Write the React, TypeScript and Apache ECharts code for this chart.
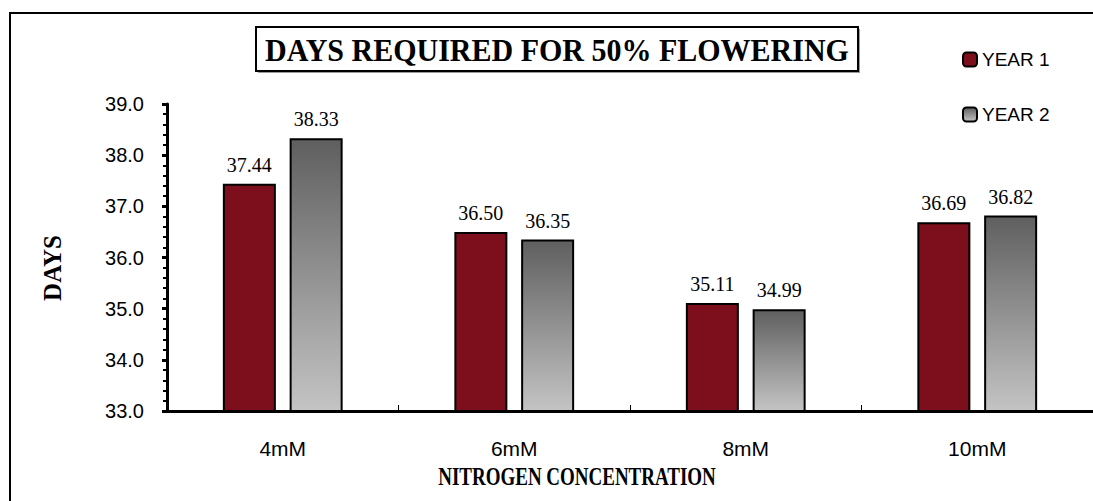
import React, { useEffect, useRef } from "react";
import * as echarts from "echarts";

const categories = ["4mM", "6mM", "8mM", "10mM"];
const year1 = [37.44, 36.5, 35.11, 36.69];
const year2 = [38.33, 36.35, 34.99, 36.82];
const seriesNames = ["YEAR 1", "YEAR 2"];
const yMin = 33;
const yMax = 39;
const yStep = 1;
const chartTitle = "DAYS REQUIRED FOR 50% FLOWERING";
const yName = "DAYS";
const xName = "NITROGEN CONCENTRATION";

export default function App() {
  const ref = useRef<HTMLDivElement>(null);
  useEffect(() => {
    if (!ref.current) return;
    const chart = echarts.init(ref.current, undefined, { renderer: "svg" });
    const serif = "'Liberation Serif', 'Times New Roman', serif";
    const sans = "'Liberation Sans', Arial, sans-serif";
    const grayGrad = new echarts.graphic.LinearGradient(0, 0, 0, 1, [
      { offset: 0, color: "#5f5f5f" },
      { offset: 1, color: "#c4c4c4" },
    ]);
    const labelCfg = {
      show: true,
      position: "top" as const,
      distance: 9,
      color: "#000",
      fontFamily: serif,
      fontSize: 20,
      formatter: (p: any) => Number(p.value).toFixed(2),
    };
    chart.setOption({
      animation: false,
      backgroundColor: "#fff",
      grid: { left: 167, right: -11, top: 104, bottom: 90, containLabel: false },
      legend: {
        orient: "vertical",
        left: 957,
        top: 45,
        itemWidth: 14,
        itemHeight: 14,
        itemGap: 36,
        data: seriesNames,
        textStyle: { fontFamily: sans, fontSize: 19, color: "#000", padding: [0, 0, 0, 0] },
      },
      xAxis: {
        type: "category",
        data: categories,
        axisLine: { lineStyle: { color: "#000", width: 3 } },
        axisTick: { show: true, inside: true, length: 6, lineStyle: { color: "#000", width: 1 } },
        axisLabel: { color: "#000", fontFamily: sans, fontSize: 21, margin: 27 },
        splitLine: { show: false },
      },
      yAxis: {
        type: "value",
        min: yMin,
        max: yMax,
        interval: yStep,
        axisLine: { show: true, lineStyle: { color: "#000", width: 3 } },
        axisTick: { show: true, length: 5, lineStyle: { color: "#000", width: 3 } },
        minorTick: { show: true, splitNumber: 5, length: 4, lineStyle: { color: "#000", width: 2 } },
        axisLabel: {
          color: "#000",
          fontFamily: sans,
          fontSize: 20,
          margin: 23,
          formatter: (v: number) => v.toFixed(1),
        },
        splitLine: { show: false },
      },
      series: [
        {
          name: seriesNames[0],
          type: "bar",
          data: year1,
          barWidth: 53,
          barGap: "26%",
          itemStyle: { color: "#7d0e1c", borderColor: "#000", borderWidth: 2 },
          label: labelCfg,
        },
        {
          name: seriesNames[1],
          type: "bar",
          data: year2,
          barWidth: 53,
          barGap: "26%",
          itemStyle: { color: grayGrad, borderColor: "#000", borderWidth: 2 },
          label: labelCfg,
        },
      ],
      graphic: [
        {
          type: "rect",
          shape: { x: 10, y: 13, width: 1200, height: 600 },
          style: { fill: "none", stroke: "#000", lineWidth: 2 },
          silent: true,
        },
        {
          type: "rect",
          shape: { x: 258, y: 29, width: 602, height: 44 },
          style: { fill: "#9a9a9a", stroke: "none" },
          silent: true,
        },
        {
          type: "rect",
          shape: { x: 256, y: 27, width: 602, height: 44 },
          style: { fill: "#fff", stroke: "#000", lineWidth: 2 },
          silent: true,
        },
        {
          type: "text",
          x: 557,
          y: 50,
          scaleY: 1.08,
          style: {
            text: chartTitle,
            fontFamily: serif,
            fontWeight: "bold",
            fontSize: 30,
            fill: "#000",
            align: "center",
            verticalAlign: "middle",
          },
        },
        {
          type: "text",
          x: 52,
          y: 268,
          rotation: Math.PI / 2,
          style: {
            text: yName,
            fontFamily: serif,
            fontWeight: "bold",
            fontSize: 25,
            fill: "#000",
            align: "center",
            verticalAlign: "middle",
          },
        },
        {
          type: "text",
          x: 577,
          y: 477,
          scaleY: 1.3,
          style: {
            text: xName,
            fontFamily: serif,
            fontWeight: "bold",
            fontSize: 19,
            fill: "#000",
            align: "center",
            verticalAlign: "middle",
          },
        },
      ],
    });
    return () => chart.dispose();
  }, []);
  return (
    <div style={{ position: "absolute", left: 0, top: 0, width: 1093, height: 501, overflow: "hidden", background: "#fff" }}>
      <div ref={ref} style={{ width: 1093, height: 501 }} />
    </div>
  );
}
